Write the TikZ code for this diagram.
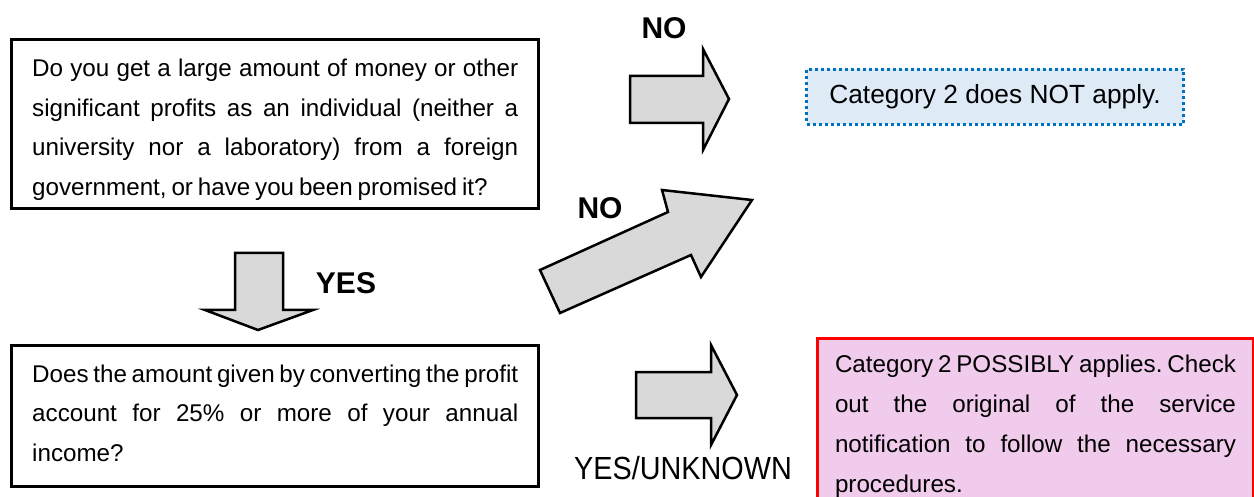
\documentclass[tikz,border=0pt]{standalone}
\usepackage{fontspec}
\setmainfont{Liberation Sans}
\usepackage{graphicx}
\frenchspacing
\definecolor{arrowgray}{HTML}{D9D9D9}
\definecolor{bluebd}{HTML}{0070C0}
\definecolor{bluefill}{HTML}{DEEBF7}
\definecolor{pinkfill}{HTML}{F1CBEC}
\newcommand{\bodyfont}[1]{\frenchspacing\fontsize{24.2}{#1}\selectfont\spaceskip=0.2em plus 3em minus 0.12em\relax}
\begin{document}
\begin{tikzpicture}[x=1pt,y=-1pt,
  frame/.style={draw=black, line width=3pt, fill=white, anchor=north west, inner sep=0pt},
  qtext/.style={anchor=base west, align=justify, text width=486pt, inner sep=0pt,
    font=\bodyfont{39.5}},
  blockarrow/.style={draw=black, line width=2.5pt, fill=arrowgray, line join=miter},
  lbl/.style={font=\bfseries\fontsize{30}{30}\selectfont, inner sep=0pt},
]
\useasboundingbox (0,0) rectangle (1254,497);
% question boxes
\node[frame, minimum width=527pt, minimum height=169pt] (q1) at (10,38) {};
\node[qtext] (q1t) at (32,77)
 {Do you get a large amount of money or other\linebreak
  significant profits as an individual (neither a\linebreak
  university nor a laboratory) from a foreign\linebreak
  government, or have you been promised it?};
\node[frame, minimum width=527pt, minimum height=141pt] (q2) at (10,344) {};
\node[qtext] (q2t) at (32,382)
 {Does the amount given by converting the profit\linebreak
  account for 25\% or more of your annual\linebreak
  income?};
% result boxes
\node[draw=bluebd, line width=3pt, dash pattern=on 3pt off 3pt, fill=bluefill,
  anchor=north west, minimum width=377pt, minimum height=55pt, inner sep=0pt,
  font=\fontsize{26.3}{26.3}\selectfont] (r1) at (805,68) {Category 2 does NOT apply.};
\node[draw=red, line width=3pt, fill=pinkfill, anchor=north west, align=justify,
  text width=401pt, inner xsep=17.5pt, inner ysep=0pt, minimum height=176pt,
  font=\bodyfont{40}] (r2) at (816,337)
 {Category 2 POSSIBLY applies. Check\linebreak
  out the original of the service\linebreak
  notification to follow the necessary\linebreak
  procedures.};
% block arrows
\draw[blockarrow] (630,76) -- (703,76) -- (703,49) -- (729,99) -- (703,150) -- (703,123) -- (630,123) -- cycle;
\draw[blockarrow] (540,270) -- (668,212) -- (662,190) -- (752,200) -- (701,277) -- (691,255) -- (560,313) -- cycle;
\draw[blockarrow] (636,372) -- (711,372) -- (711,345) -- (737,395) -- (711,445) -- (711,418) -- (636,418) -- cycle;
\draw[blockarrow] (235,253) -- (283,253) -- (283,310) -- (313,310) -- (258,330) -- (205,310) -- (235,310) -- cycle;
% labels
\node[lbl] (no1) at (664,28) {NO};
\node[lbl] (no2) at (600,208) {NO};
\node[lbl] (yes) at (346,283) {YES};
\node[inner sep=0pt, font=\fontsize{32}{32}\selectfont] (yu) at (683,468) {\scalebox{0.9}[1]{YES/UNKNOWN}};
\end{tikzpicture}
\end{document}
